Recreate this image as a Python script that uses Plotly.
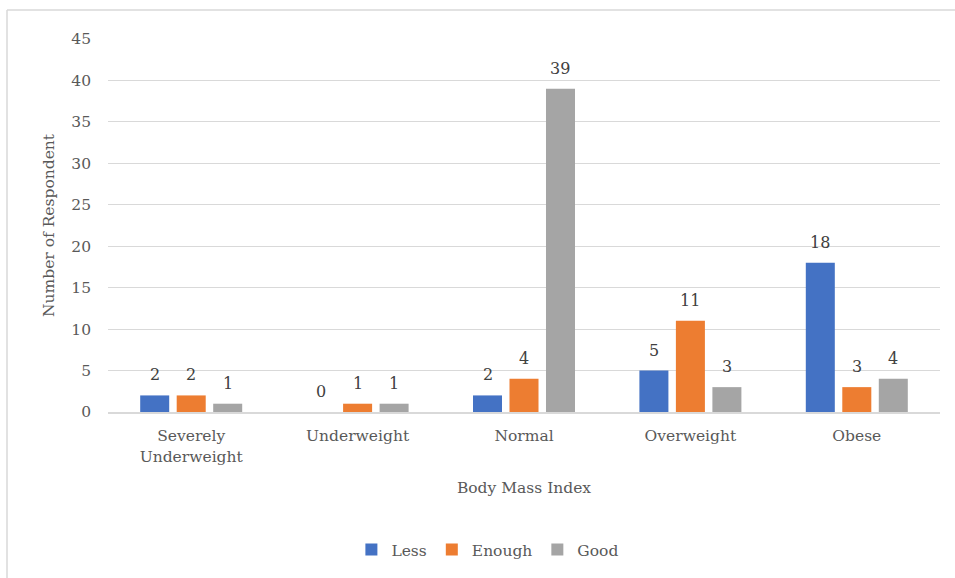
import plotly.graph_objects as go

categories = ["Severely<br>Underweight", "Underweight", "Normal", "Overweight", "Obese"]
less = [2, 0, 2, 5, 18]
enough = [2, 1, 4, 11, 3]
good = [1, 1, 39, 3, 4]

series = [
    ("Less", less, "#4472C4"),
    ("Enough", enough, "#ED7D31"),
    ("Good", good, "#A5A5A5"),
]

FONT = "DejaVu Serif"
TXT = "#595959"

# geometry of the plot area in pixels
W, H = 955, 578
ML, MR, MT, MB = 108, 15, 39, 165
PW = W - ML - MR
PH = H - MT - MB
BARGAP, GROUPGAP = 0.342, 0.205
slot_px = PW / len(categories) * (1 - BARGAP) / len(series)

fig = go.Figure()
for name, vals, color in series:
    fig.add_trace(go.Bar(
        name=name, x=categories, y=vals,
        marker=dict(color=color, line=dict(width=0)),
        hoverinfo="x+y+name",
    ))

# value labels above each bar, offset to the bar's slot within its group
for si, (name, vals, color) in enumerate(series):
    dx = (si - (len(series) - 1) / 2) * slot_px
    for cat, v in zip(categories, vals):
        fig.add_annotation(
            x=cat, y=v, xref="x", yref="y", text=str(v), showarrow=False,
            xshift=dx, yshift=9, yanchor="bottom",
            font=dict(family=FONT, size=16, color="#404040"),
        )

fig.update_layout(
    width=W, height=H,
    margin=dict(l=ML, r=MR, t=MT, b=MB),
    paper_bgcolor="white", plot_bgcolor="white",
    barmode="group", bargap=BARGAP, bargroupgap=GROUPGAP,
    font=dict(family=FONT, size=15.5, color=TXT),
    showlegend=True,
    legend=dict(orientation="h", x=0.456, xanchor="center", y=-0.366, yanchor="middle",
                font=dict(family=FONT, size=15.5, color=TXT), itemwidth=30,
                traceorder="normal"),
    xaxis=dict(
        showgrid=False, showline=True, linecolor="#D9D9D9", linewidth=1.5,
        ticks="", ticklabelstandoff=9,
        tickfont=dict(family=FONT, size=15.5, color=TXT),
        title=dict(text="Body Mass Index", standoff=18,
                   font=dict(family=FONT, size=15.5, color=TXT)),
    ),
    yaxis=dict(
        range=[0, 45], dtick=5, showgrid=True, gridcolor="#D9D9D9", gridwidth=1,
        zeroline=False, showline=False, ticks="", ticklabelstandoff=16,
        tickfont=dict(family=FONT, size=15.5, color=TXT),
        title=dict(text="Number of Respondent", standoff=12,
                   font=dict(family=FONT, size=15.5, color=TXT)),
    ),
)

# chart frame edges (left and top)
fx = (7 - ML) / PW
fy = (H - MB - 10) / PH
fig.add_shape(type="line", xref="paper", yref="paper",
              x0=fx, x1=fx, y0=fy, y1=(H - MB - 600) / PH,
              line=dict(color="#D9D9D9", width=1.5))
fig.add_shape(type="line", xref="paper", yref="paper",
              x0=fx, x1=(960 - ML) / PW, y0=fy, y1=fy,
              line=dict(color="#D9D9D9", width=1.5))

fig.write_html("out.html")
